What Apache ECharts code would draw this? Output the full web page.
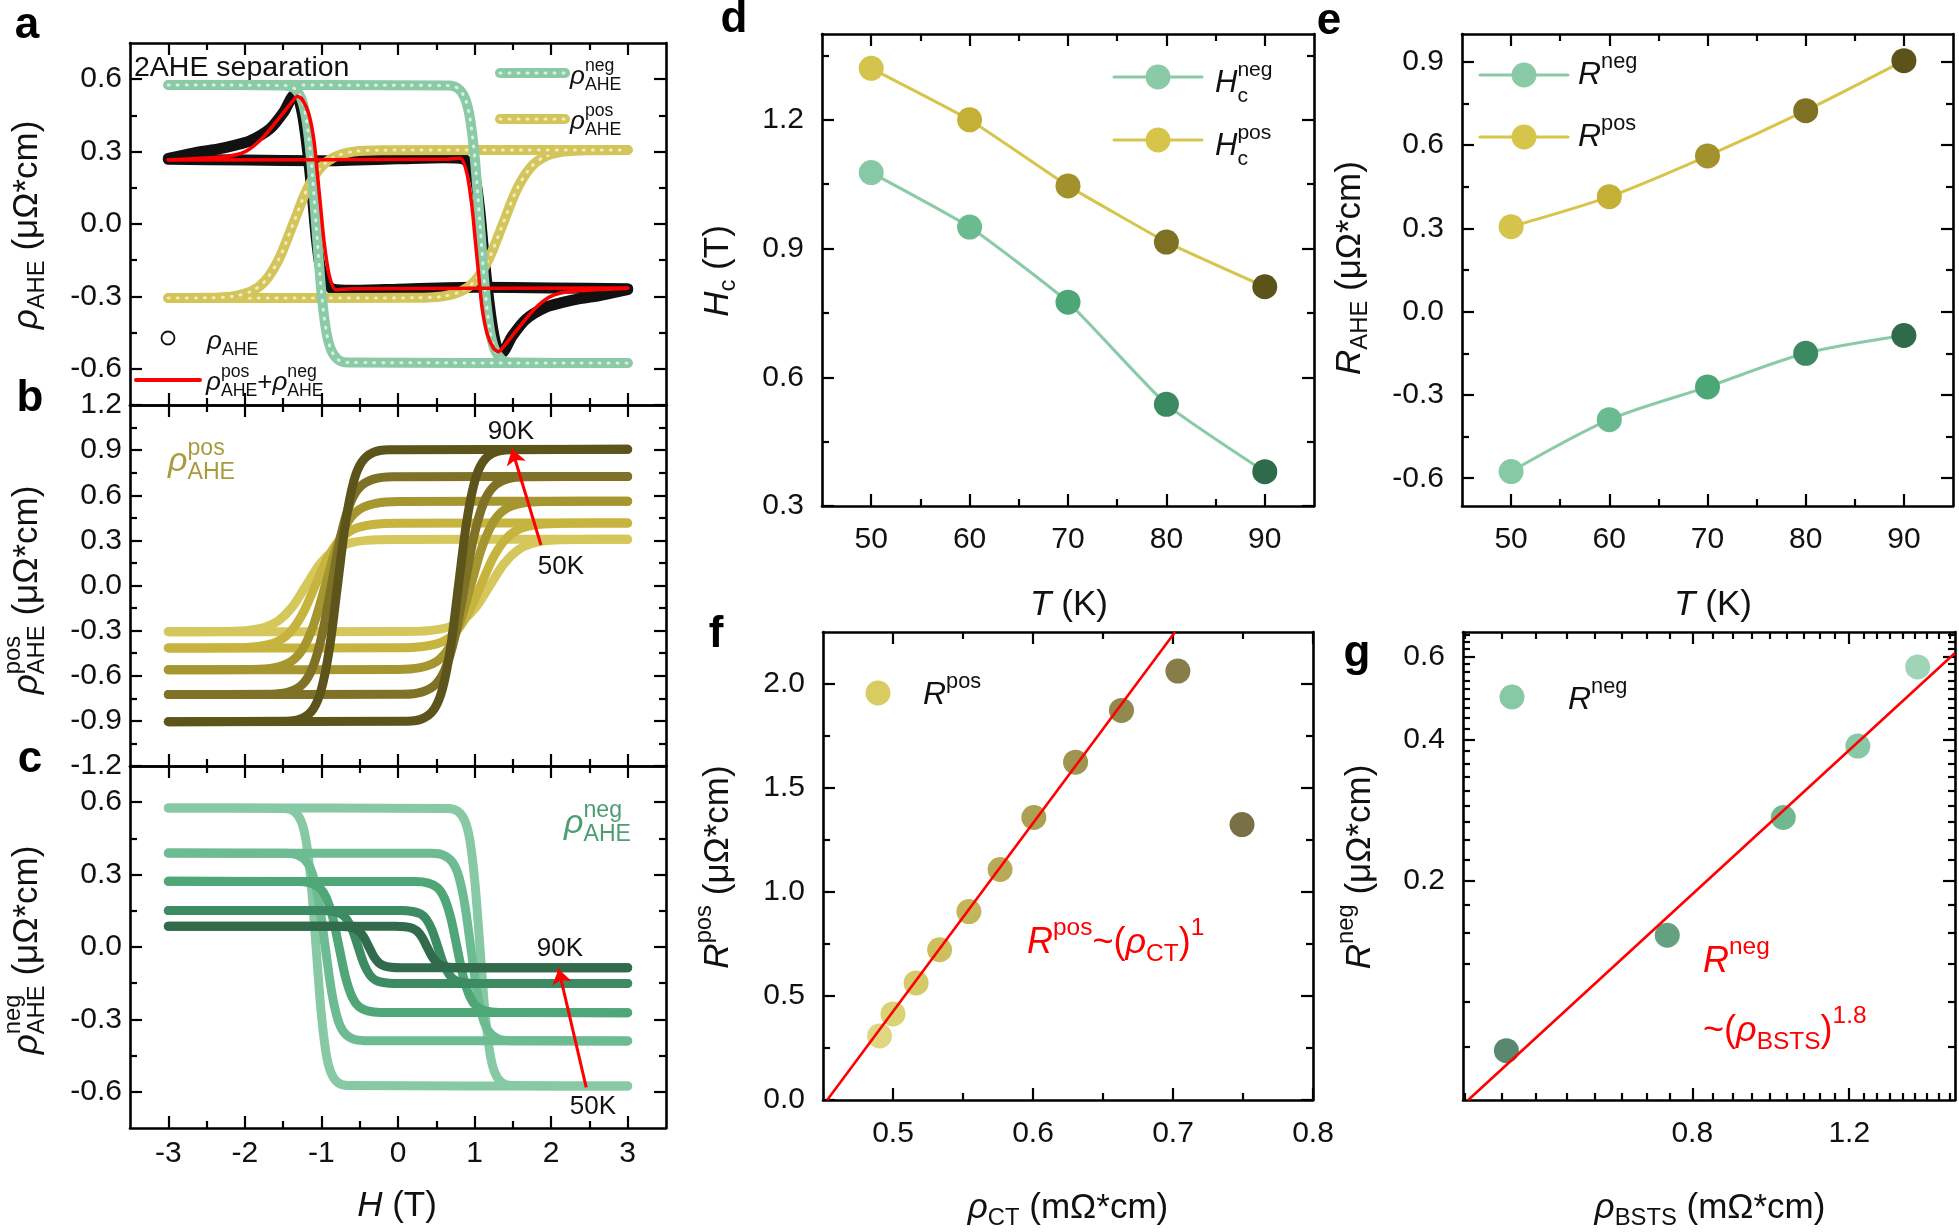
<!DOCTYPE html>
<html><head><meta charset="utf-8">
<script src="https://cdn.jsdelivr.net/npm/echarts@6/dist/echarts.min.js"></script>
<style>html,body{margin:0;padding:0;background:#fff}#c{width:1959px;height:1232px}</style>
</head><body><div id="c"></div>
<script>
// ---------------- DATA ----------------
// Panel a (50 K): components, fit and measured data, [H (T), rho]
const aNegUp   = [[-3,0.576],[0.654,0.574],[0.784,0.562],[0.875,0.521],[0.94,0.439],[1.005,0.266],[1.07,0],[1.135,-0.266],[1.2,-0.439],[1.265,-0.521],[1.356,-0.562],[1.486,-0.574],[3,-0.576]];
const aNegDown = [[-3,0.576],[-1.486,0.574],[-1.356,0.562],[-1.265,0.521],[-1.2,0.439],[-1.135,0.266],[-1.07,0],[-1.005,-0.266],[-0.94,-0.439],[-0.875,-0.521],[-0.784,-0.562],[-0.654,-0.574],[3,-0.576]];
const aPosUp   = [[-3,-0.307],[0.22,-0.306],[0.58,-0.3],[0.83,-0.278],[1.01,-0.234],[1.19,-0.142],[1.37,0],[1.55,0.142],[1.73,0.234],[1.91,0.278],[2.16,0.3],[2.52,0.306],[3,0.307]];
const aPosDown = [[-3,-0.307],[-2.52,-0.306],[-2.16,-0.3],[-1.91,-0.278],[-1.73,-0.234],[-1.55,-0.142],[-1.37,0],[-1.19,0.142],[-1.01,0.234],[-0.83,0.278],[-0.58,0.3],[-0.22,0.306],[3,0.307]];
const aFitUp   = [[-3,0.265],[0.6,0.268],[0.813,0.272],[0.9,0.21],[0.966,0.072],[1.009,-0.066],[1.052,-0.204],[1.096,-0.343],[1.162,-0.453],[1.248,-0.515],[1.313,-0.529],[1.379,-0.508],[1.553,-0.439],[1.77,-0.356],[1.988,-0.301],[2.249,-0.28],[3,-0.266]];
const aFitDown = [[-3,0.266],[-2.249,0.28],[-1.988,0.301],[-1.77,0.356],[-1.553,0.439],[-1.379,0.508],[-1.313,0.529],[-1.248,0.515],[-1.162,0.453],[-1.096,0.343],[-1.052,0.204],[-1.009,0.066],[-0.966,-0.072],[-0.9,-0.21],[-0.813,-0.272],[-0.6,-0.268],[3,-0.265]];
const aDataUp  = [[-3,0.268],[-2,0.265],[-1,0.262],[0,0.27],[0.6,0.275],[0.85,0.27],[0.95,0.24],[1.02,0.17],[1.07,0.05],[1.12,-0.12],[1.18,-0.3],[1.24,-0.44],[1.3,-0.52],[1.354,-0.535],[1.49,-0.465],[1.67,-0.395],[1.93,-0.345],[2.15,-0.325],[2.36,-0.31],[2.58,-0.3],[2.8,-0.285],[3,-0.272]];
const aDataDown= [[-3,0.272],[-2.8,0.285],[-2.58,0.3],[-2.36,0.31],[-2.15,0.325],[-1.93,0.345],[-1.67,0.395],[-1.49,0.465],[-1.354,0.535],[-1.3,0.52],[-1.24,0.44],[-1.18,0.3],[-1.12,0.12],[-1.07,-0.05],[-1.02,-0.17],[-0.95,-0.24],[-0.85,-0.27],[-0.6,-0.275],[0,-0.27],[1,-0.262],[2,-0.265],[3,-0.268]];

// Panel b: rho_AHE^pos loops, 50..90 K
const b50Up = [[-3,-0.307],[0.05,-0.306],[0.41,-0.3],[0.66,-0.278],[0.84,-0.234],[1.02,-0.142],[1.2,0],[1.38,0.142],[1.56,0.234],[1.74,0.278],[1.99,0.3],[2.35,0.306],[3,0.307]];
const b50Down = [[-3,-0.307],[-2.35,-0.306],[-1.99,-0.3],[-1.74,-0.278],[-1.56,-0.234],[-1.38,-0.142],[-1.2,0],[-1.02,0.142],[-0.84,0.234],[-0.66,0.278],[-0.41,0.3],[-0.05,0.306],[3,0.307]];
const b60Up = [[-3,-0.415],[-0.01,-0.414],[0.33,-0.405],[0.57,-0.376],[0.74,-0.316],[0.91,-0.192],[1.08,0],[1.25,0.192],[1.42,0.316],[1.59,0.376],[1.83,0.405],[2.17,0.414],[3,0.415]];
const b60Down = [[-3,-0.415],[-2.17,-0.414],[-1.83,-0.405],[-1.59,-0.376],[-1.42,-0.316],[-1.25,-0.192],[-1.08,0],[-0.91,0.192],[-0.74,0.316],[-0.57,0.376],[-0.33,0.405],[0.01,0.414],[3,0.415]];
const b70Up = [[-3,-0.56],[-0.01,-0.558],[0.29,-0.546],[0.5,-0.507],[0.65,-0.427],[0.8,-0.259],[0.95,0],[1.1,0.259],[1.25,0.427],[1.4,0.507],[1.61,0.546],[1.91,0.558],[3,0.56]];
const b70Down = [[-3,-0.56],[-1.91,-0.558],[-1.61,-0.546],[-1.4,-0.507],[-1.25,-0.427],[-1.1,-0.259],[-0.95,0],[-0.8,0.259],[-0.65,0.427],[-0.5,0.507],[-0.29,0.546],[0.01,0.558],[3,0.56]];
const b80Up = [[-3,-0.725],[0.07,-0.723],[0.32,-0.707],[0.495,-0.656],[0.62,-0.552],[0.745,-0.335],[0.87,0],[0.995,0.335],[1.12,0.552],[1.245,0.656],[1.42,0.707],[1.67,0.723],[3,0.725]];
const b80Down = [[-3,-0.725],[-1.67,-0.723],[-1.42,-0.707],[-1.245,-0.656],[-1.12,-0.552],[-0.995,-0.335],[-0.87,0],[-0.745,0.335],[-0.62,0.552],[-0.495,0.656],[-0.32,0.707],[-0.07,0.723],[3,0.725]];
const b90Up = [[-3,-0.905],[0.118,-0.902],[0.328,-0.883],[0.475,-0.819],[0.58,-0.689],[0.685,-0.418],[0.79,0],[0.895,0.418],[1.0,0.689],[1.105,0.819],[1.252,0.883],[1.462,0.902],[3,0.905]];
const b90Down = [[-3,-0.905],[-1.462,-0.902],[-1.252,-0.883],[-1.105,-0.819],[-1.0,-0.689],[-0.895,-0.418],[-0.79,0],[-0.685,0.418],[-0.58,0.689],[-0.475,0.819],[-0.328,0.883],[-0.118,0.902],[3,0.905]];

// Panel c: rho_AHE^neg loops, 50..90 K
const c50Up = aNegUp, c50Down = aNegDown;
const c60Up = [[-3,0.389],[0.438,0.388],[0.598,0.38],[0.71,0.352],[0.79,0.296],[0.87,0.18],[0.95,0],[1.03,-0.18],[1.11,-0.296],[1.19,-0.352],[1.302,-0.38],[1.462,-0.388],[3,-0.389]];
const c60Down = [[-3,0.389],[-1.462,0.388],[-1.302,0.38],[-1.19,0.352],[-1.11,0.296],[-1.03,0.18],[-0.95,0],[-0.87,-0.18],[-0.79,-0.296],[-0.71,-0.352],[-0.598,-0.38],[-0.438,-0.388],[3,-0.389]];
const c70Up = [[-3,0.272],[0.226,0.271],[0.396,0.265],[0.515,0.246],[0.6,0.207],[0.685,0.126],[0.77,0],[0.855,-0.126],[0.94,-0.207],[1.025,-0.246],[1.144,-0.265],[1.314,-0.271],[3,-0.272]];
const c70Down = [[-3,0.272],[-1.314,0.271],[-1.144,0.265],[-1.025,0.246],[-0.94,0.207],[-0.855,0.126],[-0.77,0],[-0.685,-0.126],[-0.6,-0.207],[-0.515,-0.246],[-0.396,-0.265],[-0.226,-0.271],[3,-0.272]];
const c80Up = [[-3,0.151],[0.04,0.151],[0.19,0.147],[0.295,0.137],[0.37,0.115],[0.445,0.07],[0.52,0],[0.595,-0.07],[0.67,-0.115],[0.745,-0.137],[0.85,-0.147],[1.0,-0.151],[3,-0.151]];
const c80Down = [[-3,0.151],[-1.0,0.151],[-0.85,0.147],[-0.745,0.137],[-0.67,0.115],[-0.595,0.07],[-0.52,0],[-0.445,-0.07],[-0.37,-0.115],[-0.295,-0.137],[-0.19,-0.147],[-0.04,-0.151],[3,-0.151]];
const c90Up = [[-3,0.086],[-0.036,0.086],[0.094,0.084],[0.185,0.078],[0.25,0.066],[0.315,0.04],[0.38,0],[0.445,-0.04],[0.51,-0.066],[0.575,-0.078],[0.666,-0.084],[0.796,-0.086],[3,-0.086]];
const c90Down = [[-3,0.086],[-0.796,0.086],[-0.666,0.084],[-0.575,0.078],[-0.51,0.066],[-0.445,0.04],[-0.38,0],[-0.315,-0.04],[-0.25,-0.066],[-0.185,-0.078],[-0.094,-0.084],[0.036,-0.086],[3,-0.086]];

// Red arrows (start -> tip) in data coordinates
const arrowB = [[1.867,0.269],[1.489,0.906]];
const arrowC = [[2.458,-0.582],[2.097,-0.091]];

// Panels d, e
const temps = [50,60,70,80,90];
const HcNeg = [1.077,0.95,0.775,0.537,0.38];
const HcPos = [1.32,1.20,1.046,0.915,0.811];
const Rneg  = [-0.576,-0.389,-0.271,-0.15,-0.086];
const Rpos  = [0.306,0.414,0.561,0.724,0.904];

// Panel f
const rhoCT = [0.4904,0.5,0.5165,0.5333,0.5542,0.5765,0.6006,0.6304,0.6632,0.7035,0.7493];
const RposF = [0.308,0.414,0.563,0.7225,0.906,1.108,1.358,1.624,1.873,2.062,1.324];
const fitF  = [[0.453,0],[0.7015,2.25]];

// Panel g
const rhoBSTS = [0.495,0.75,1.012,1.227,1.432];
const RnegG   = [0.0873,0.1535,0.273,0.387,0.57];
const fitG    = [[0.4485,0.0686],[1.577,0.61]];

// Tick values
const hTicks = [-3,-2,-1,0,1,2,3], hMinor = [-2.5,-1.5,-0.5,0.5,1.5,2.5];
const acYTicks = [-0.6,-0.3,0,0.3,0.6], acYMinor = [-0.45,-0.15,0.15,0.45];
const bYTicks = [-1.2,-0.9,-0.6,-0.3,0,0.3,0.6,0.9,1.2], bYMinor = [-1.05,-0.75,-0.45,-0.15,0.15,0.45,0.75,1.05];
const tTicks = [50,60,70,80,90], tMinor = [55,65,75,85];
const dYTicks = [0.3,0.6,0.9,1.2], dYMinor = [0.45,0.75,1.05,1.35];
const eYTicks = [-0.6,-0.3,0,0.3,0.6,0.9], eYMinor = [-0.45,-0.15,0.15,0.45,0.75];
const fXTicks = [0.5,0.6,0.7,0.8], fXMinor = [0.55,0.65,0.75];
const fYTicks = [0,0.5,1,1.5,2], fYMinor = [0.25,0.75,1.25,1.75];
const gXTicks = [0.8,1.2];
const gXMinor = [0.4444,0.4889,0.5333,0.5778,0.6222,0.6667,0.7111,0.7556,0.8444,0.8889,0.9333,0.9778,1.0222,1.0667,1.1111,1.1556,1.2444,1.2889,1.3333,1.3778,1.4222,1.4667,1.5111,1.5556];
const gYTicks = [0.2,0.4,0.6];
const gYMinor = [0.0889,0.1111,0.1333,0.1556,0.1778,0.2222,0.2444,0.2667,0.2889,0.3111,0.3333,0.3556,0.3778,0.4222,0.4444,0.4667,0.4889,0.5111,0.5333,0.5556,0.5778,0.6222,0.6444,0.6667];

// Colours
const negCols = ['#88c9a5','#6cba90','#4da676','#3c8a61','#2f6a4b'];
const posCols = ['#d4c44e','#c3b034','#a3922c','#7e7124','#5c531b'];
const negCurve = ['#88c9a5','#6dbb92','#4fa677','#3d8b62','#316b4c'];
const posCurve = ['#d5c75c','#c6b43e','#a69630','#7f7226','#5d541c'];
const fCols = ['#d8cb62','#d2c553','#cbbb44','#c0ae36','#b4a231','#a6952c','#978828','#877924','#776b21','#685d1c','#584e17'];
const gCols = ['#2f6a4b','#3c8a61','#4da676','#6cba90','#88c9a5'];

// ---------------- BUILD ----------------
const FONT = '"Liberation Sans", Arial, Helvetica, sans-serif';
const grid = [], xAxis = [], yAxis = [], series = [], graphic = [];

function addGrid(left, top, width, height) { grid.push({left, top, width, height}); return grid.length - 1; }
function tickAxis(kind, gi, pos, ext, ticks, len, line, lab, fmt, margin) {
  const ax = {
    type: 'value', gridIndex: gi, position: pos, min: ext[0], max: ext[1],
    axisLine: {show: !!line, onZero: false, lineStyle: {color: '#000', width: 2.6}},
    axisTick: {show: true, inside: true, length: len, customValues: ticks, lineStyle: {color: '#000', width: 2.2}},
    axisLabel: lab ? {show: true, customValues: ticks, formatter: fmt, margin: margin, fontSize: 30, color: '#111', fontFamily: FONT} : {show: false},
    splitLine: {show: false}, minorTick: {show: false}
  };
  const arr = kind === 'x' ? xAxis : yAxis;
  arr.push(ax); return arr.length - 1;
}
function box(gi, xr, yr, t, o) {
  const cv = o.conv || (v => v);
  const X = xr.map(cv), Y = yr.map(cv);
  const xi = tickAxis('x', gi, 'bottom', X, t.xMaj.map(cv), 12, true, o.xLab, o.xFmt, o.xM);
  tickAxis('x', gi, 'bottom', X, t.xMin.map(cv), 7, false);
  tickAxis('x', gi, 'top', X, t.xMaj.map(cv), 12, true);
  tickAxis('x', gi, 'top', X, t.xMin.map(cv), 7, false);
  const yi = tickAxis('y', gi, 'left', Y, t.yMaj.map(cv), 12, true, o.yLab, o.yFmt, o.yM);
  tickAxis('y', gi, 'left', Y, t.yMin.map(cv), 7, false);
  tickAxis('y', gi, 'right', Y, t.yMaj.map(cv), 12, true);
  tickAxis('y', gi, 'right', Y, t.yMin.map(cv), 7, false);
  return {x: xi, y: yi};
}
const f1 = v => v.toFixed(1);
const fInt = v => String(Math.round(v));

const gA = addGrid(130, 43, 536, 362);
const gB = addGrid(130, 405, 536, 361);
const gC = addGrid(130, 766, 536, 362);
const gD = addGrid(822, 34, 492, 472);
const gE = addGrid(1462, 34, 491, 472);
const gF = addGrid(823, 632, 490, 468);
const gG = addGrid(1463, 632, 492, 468);

const axA = box(gA, [-3.5,3.5], [-0.75,0.75], {xMaj:hTicks,xMin:hMinor,yMaj:acYTicks,yMin:acYMinor}, {yLab:true, yFmt:f1, yM:8});
const axB = box(gB, [-3.5,3.5], [-1.2,1.2], {xMaj:hTicks,xMin:hMinor,yMaj:bYTicks,yMin:bYMinor}, {yLab:true, yFmt:f1, yM:8});
const axC = box(gC, [-3.5,3.5], [-0.75,0.75], {xMaj:hTicks,xMin:hMinor,yMaj:acYTicks,yMin:acYMinor}, {xLab:true, xFmt:fInt, xM:11, yLab:true, yFmt:f1, yM:8});
const axD = box(gD, [45,95], [0.3,1.4], {xMaj:tTicks,xMin:tMinor,yMaj:dYTicks,yMin:dYMinor}, {xLab:true, xFmt:fInt, xM:19, yLab:true, yFmt:f1, yM:18});
const axE = box(gE, [45,95], [-0.7,1.0], {xMaj:tTicks,xMin:tMinor,yMaj:eYTicks,yMin:eYMinor}, {xLab:true, xFmt:fInt, xM:19, yLab:true, yFmt:f1, yM:18});
const axF = box(gF, [0.45,0.8], [0,2.25], {xMaj:fXTicks,xMin:fXMinor,yMaj:fYTicks,yMin:fYMinor}, {xLab:true, xFmt:f1, xM:19, yLab:true, yFmt:f1, yM:18});
const gXR = [0.4425,1.577], gYR = [0.0686,0.676];
const fLog = v => Math.pow(10, v).toFixed(1);
box(gG, gXR, gYR, {xMaj:gXTicks,xMin:gXMinor,yMaj:gYTicks,yMin:gYMinor}, {conv: Math.log10, xLab:true, xFmt:fLog, xM:19, yLab:true, yFmt:fLog, yM:18});
xAxis.push({type:'log', logBase:10, gridIndex:gG, min:gXR[0], max:gXR[1], show:false, axisLine:{onZero:false}});
yAxis.push({type:'log', logBase:10, gridIndex:gG, min:gYR[0], max:gYR[1], show:false, axisLine:{onZero:false}});
const axG = {x: xAxis.length - 1, y: yAxis.length - 1};

function curve(ax, data, color, width, extra) {
  const s = {type:'line', xAxisIndex: ax.x, yAxisIndex: ax.y, data: data, showSymbol:false, symbol:'none', smooth:0.3,
    lineStyle:{color, width, cap:'round', join:'round'}, itemStyle:{color}, silent:true, animation:false};
  series.push(Object.assign(s, extra || {}));
  return s;
}

// Panel a
curve(axA, aDataUp, '#111', 11, {smooth:0.25});
curve(axA, aDataDown, '#111', 11, {smooth:0.25});
[aPosUp, aPosDown].forEach(d => { curve(axA, d, '#d3c55a', 10); curve(axA, d, '#f1ebbf', 3, {lineStyle:{color:'#f1ebbf', width:3, type:[1,8], cap:'round'}}); });
[aNegUp, aNegDown].forEach(d => { curve(axA, d, '#8acaa6', 10); curve(axA, d, '#d9efe2', 3, {lineStyle:{color:'#d9efe2', width:3, type:[1,8], cap:'round'}}); });
curve(axA, aFitUp, '#ff0000', 3.5, {smooth:0.25});
curve(axA, aFitDown, '#ff0000', 3.5, {smooth:0.25});

// Panel b
const bUps = [b50Up,b60Up,b70Up,b80Up,b90Up], bDowns = [b50Down,b60Down,b70Down,b80Down,b90Down];
bUps.forEach((d,i) => { curve(axB, d, posCurve[i], 9); curve(axB, bDowns[i], posCurve[i], 9); });
const arrowStyle = (a) => ({silent:true, animation:false, symbol:['none','arrow'], symbolSize:15, label:{show:false}, emphasis:{disabled:true},
  lineStyle:{color:'#ff0000', width:3, type:'solid'}, data:[[{coord:a[0]},{coord:a[1]}]]});
series[series.length-1].markLine = arrowStyle(arrowB);

// Panel c
const cUps = [c50Up,c60Up,c70Up,c80Up,c90Up], cDowns = [c50Down,c60Down,c70Down,c80Down,c90Down];
cUps.forEach((d,i) => { curve(axC, d, negCurve[i], 9); curve(axC, cDowns[i], negCurve[i], 9); });
series[series.length-1].markLine = arrowStyle(arrowC);

// Panels d, e
function tLine(ax, vals, cols, lineCol, smooth) {
  series.push({type:'line', xAxisIndex:ax.x, yAxisIndex:ax.y, smooth, symbol:'circle', symbolSize:25, showSymbol:true,
    lineStyle:{color:lineCol, width:3}, itemStyle:{color:lineCol, borderWidth:0}, silent:true, animation:false,
    data: temps.map((t,i) => ({value:[t, vals[i]], itemStyle:{color:cols[i], borderWidth:0}}))});
}
tLine(axD, HcNeg, negCols, '#8acaa6', 0.15);
tLine(axD, HcPos, posCols, '#d7c54b', 0.1);
tLine(axE, Rneg, negCols, '#8acaa6', 0.3);
tLine(axE, Rpos, posCols, '#d7c54b', 0.3);

// Panel f
series.push({type:'scatter', xAxisIndex:axF.x, yAxisIndex:axF.y, symbolSize:25, silent:true, animation:false,
  data: rhoCT.map((x,i) => ({value:[x, RposF[i]], itemStyle:{color:fCols[i]}}))});
series.push({type:'line', xAxisIndex:axF.x, yAxisIndex:axF.y, data:fitF, symbol:'none', lineStyle:{color:'#ff0000', width:2.6}, silent:true, animation:false, z:4});
// Panel g
series.push({type:'scatter', xAxisIndex:axG.x, yAxisIndex:axG.y, symbolSize:25, silent:true, animation:false,
  data: rhoBSTS.map((x,i) => ({value:[x, RnegG[i]], itemStyle:{color:gCols[i]}}))});
series.push({type:'line', xAxisIndex:axG.x, yAxisIndex:axG.y, data:fitG, symbol:'none', lineStyle:{color:'#ff0000', width:2.6}, silent:true, animation:false, z:4});

// ---------------- TEXT / LEGENDS ----------------
const mctx = document.createElement('canvas').getContext('2d');
function fstr(size, it, b) { return (it ? 'italic ' : 'normal ') + (b ? 'bold ' : 'normal ') + size + 'px ' + FONT; }
function measure(t, size, it, b) { mctx.font = fstr(size, it, b); return mctx.measureText(t).width; }
function mtext(tokens, size, color) {
  const els = []; let x = 0;
  tokens.forEach(tk => {
    if (typeof tk === 'string') tk = {t: tk};
    if (tk.t != null) {
      const fs = size * (tk.k || 1);
      els.push({type:'text', x: x, y: (tk.dy || 0) * size, silent:true,
        style:{text: tk.t, font: fstr(fs, tk.it, tk.b), fill: color, align:'left', verticalAlign:'middle'}});
      x += measure(tk.t, fs, tk.it, tk.b);
    } else {
      const fs = size * (tk.k || 0.68); let w = 0;
      if (tk.sup) { els.push({type:'text', x: x, y: (tk.supDy != null ? tk.supDy : -0.4) * size, silent:true,
        style:{text: tk.sup, font: fstr(fs), fill: color, align:'left', verticalAlign:'middle'}}); w = Math.max(w, measure(tk.sup, fs)); }
      if (tk.sub) { els.push({type:'text', x: x, y: (tk.subDy != null ? tk.subDy : 0.3) * size, silent:true,
        style:{text: tk.sub, font: fstr(fs), fill: color, align:'left', verticalAlign:'middle'}}); w = Math.max(w, measure(tk.sub, fs)); }
      x += w;
    }
  });
  return {els, w: x};
}
function label(tokens, size, color, x, y, opt) {
  opt = opt || {};
  const m = mtext(tokens, size, color);
  const shift = opt.center ? -m.w / 2 : 0;
  m.els.forEach(e => { e.x += shift; });
  graphic.push({type:'group', x: x, y: y, rotation: opt.rot ? Math.PI / 2 : 0, silent:true, z:100, children: m.els});
}
function swatch(x1, x2, y, color, w, r, dotted) {
  if (x2 > x1) graphic.push({type:'line', silent:true, z:100, shape:{x1, y1:y, x2, y2:y}, style:{stroke:color, lineWidth:w, lineCap:'round'}});
  if (dotted) graphic.push({type:'line', silent:true, z:101, shape:{x1, y1:y, x2, y2:y}, style:{stroke:dotted, lineWidth:3, lineDash:[1,8], lineCap:'round'}});
  if (r) graphic.push({type:'circle', silent:true, z:101, shape:{cx:(x1 + x2) / 2, cy:y, r}, style:{fill:color}});
}
const RHO = {t:'ρ', it:1};
const UNIT = ' (μΩ*cm)';

// panel letters
[['a',27,26],['b',30,399],['c',30,760],['d',734,20],['e',1329,22],['f',716,635],['g',1357,654]].forEach(p => {
  graphic.push({type:'text', x:p[1], y:p[2], silent:true, z:100, style:{text:p[0], font:fstr(44,false,true), fill:'#000', align:'center', verticalAlign:'middle'}});
});

// axis titles
label([RHO,{sub:'AHE'},UNIT], 35, '#111', 27, 225, {rot:1, center:1});
label([RHO,{sup:'pos',sub:'AHE'},UNIT], 35, '#111', 27, 590, {rot:1, center:1});
label([RHO,{sup:'neg',sub:'AHE'},UNIT], 35, '#111', 27, 950, {rot:1, center:1});
label([{t:'H',it:1},' (T)'], 35, '#111', 397, 1206, {center:1});
label([{t:'H',it:1},{sub:'c', subDy:0.3},' (T)'], 35, '#111', 718, 271, {rot:1, center:1});
label([{t:'T',it:1},' (K)'], 35, '#111', 1069, 605, {center:1});
label([{t:'R',it:1},{sub:'AHE'},UNIT], 35, '#111', 1350, 268, {rot:1, center:1});
label([{t:'T',it:1},' (K)'], 35, '#111', 1713, 605, {center:1});
label([{t:'R',it:1},{sup:'pos'},UNIT], 35, '#111', 718, 867, {rot:1, center:1});
label([RHO,{sub:'CT'},' (mΩ*cm)'], 35, '#111', 1068, 1208, {center:1});
label([{t:'R',it:1},{sup:'neg'},UNIT], 35, '#111', 1360, 867, {rot:1, center:1});
label([RHO,{sub:'BSTS'},' (mΩ*cm)'], 35, '#111', 1710, 1208, {center:1});

// panel a annotations / legend
label(['2AHE separation'], 28.5, '#111', 134, 68);
swatch(500, 565, 73, '#8acaa6', 10, 0, '#d9efe2');
label([RHO,{sup:'neg',sub:'AHE'}], 26, '#111', 570, 77);
swatch(500, 565, 119, '#d3c55a', 10, 0, '#f1ebbf');
label([RHO,{sup:'pos',sub:'AHE'}], 26, '#111', 570, 122);
graphic.push({type:'circle', silent:true, z:101, shape:{cx:168, cy:338, r:6.5}, style:{fill:'#fff', stroke:'#111', lineWidth:1.8}});
label([RHO,{sub:'AHE'}], 26, '#111', 207, 342);
swatch(136, 200, 380, '#ff0000', 4, 0);
label([RHO,{sup:'pos',sub:'AHE'},'+',RHO,{sup:'neg',sub:'AHE'}], 26, '#111', 206, 383);

// panel b, c annotations
label([RHO,{sup:'pos',sub:'AHE'}], 34, '#a99b3d', 168, 462);
label(['90K'], 26, '#111', 511, 432, {center:1});
label(['50K'], 26, '#111', 561, 567, {center:1});
label([RHO,{sup:'neg',sub:'AHE'}], 34, '#4c9d72', 564, 824);
label(['90K'], 26, '#111', 560, 949, {center:1});
label(['50K'], 26, '#111', 593, 1107, {center:1});

// panel d legend
swatch(1114, 1202, 77, '#8acaa6', 3, 12.5);
label([{t:'H',it:1},{sup:'neg',sub:'c',supDy:-0.4,subDy:0.42}], 31, '#111', 1215, 83);
swatch(1114, 1202, 140, '#d7c54b', 3, 12.5);
label([{t:'H',it:1},{sup:'pos',sub:'c',supDy:-0.4,subDy:0.42}], 31, '#111', 1215, 146);
// panel e legend
swatch(1480, 1568, 75, '#8acaa6', 3, 12.5);
label([{t:'R',it:1},{sup:'neg'}], 32, '#111', 1578, 75);
swatch(1480, 1568, 137, '#d7c54b', 3, 12.5);
label([{t:'R',it:1},{sup:'pos'}], 32, '#111', 1578, 137);
// panel f legend + fit label
swatch(878, 878, 693, '#d8cb62', 0, 12.5);
label([{t:'R',it:1},{sup:'pos'}], 32, '#111', 923, 695);
label([{t:'R',it:1},{sup:'pos'},'~(',RHO,{sub:'CT'},')',{sup:'1'}], 36, '#ff0000', 1027, 943);
// panel g legend + fit label
swatch(1512, 1512, 697, '#88c9a5', 0, 12.5);
label([{t:'R',it:1},{sup:'neg'}], 32, '#111', 1568, 700);
label([{t:'R',it:1},{sup:'neg'}], 36, '#ff0000', 1703, 962);
label(['~(',RHO,{sub:'BSTS'},')',{sup:'1.8'}], 36, '#ff0000', 1703, 1031);

const chart = echarts.init(document.getElementById('c'), null, {renderer:'canvas', width:1959, height:1232});
chart.setOption({animation:false, backgroundColor:'#fff', grid, xAxis, yAxis, series, graphic:{elements:graphic}});
</script></body></html>
